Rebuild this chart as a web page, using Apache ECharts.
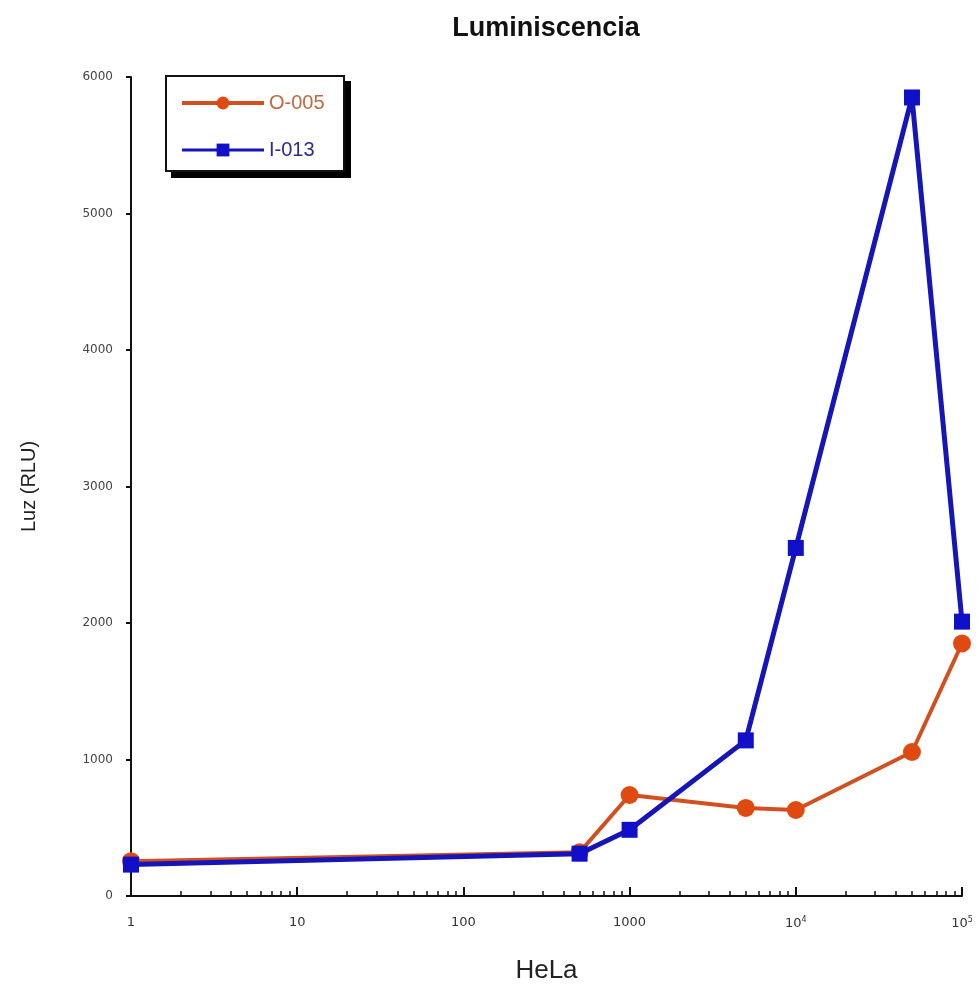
<!DOCTYPE html>
<html>
<head>
<meta charset="utf-8">
<script src="https://cdn.jsdelivr.net/npm/echarts@6/dist/echarts.min.js"></script>
<style>
html,body{margin:0;padding:0;background:#fff;}
#chart{width:978px;height:991px;}
</style>
</head>
<body>
<div id="chart"></div>
<script>
var cellCounts = [1, 500, 1000, 5000, 10000, 50000, 100000];
var seriesNames = ['O-005', 'I-013'];
var o005 = [255, 320, 740, 645, 630, 1055, 1850];
var i013 = [230, 310, 485, 1140, 2550, 5850, 2010];
var yTicks = [0, 1000, 2000, 3000, 4000, 5000, 6000];
var minorTicks = [2,3,4,5,6,7,8,9,20,30,40,50,60,70,80,90,200,300,400,500,600,700,800,900,2000,3000,4000,5000,6000,7000,8000,9000,20000,30000,40000,50000,60000,70000,80000,90000];

function pairs(xs, ys) { return xs.map(function (x, i) { return [x, ys[i]]; }); }

var chart = echarts.init(document.getElementById('chart'));
var font = 'DejaVu Sans, sans-serif';
var sans = 'Liberation Sans, Arial, sans-serif';
chart.setOption({
  animation: false,
  backgroundColor: '#fff',
  title: {
    text: 'Luminiscencia',
    left: 541, top: 10, textAlign: 'center',
    textStyle: { fontFamily: sans, fontWeight: 'bold', fontSize: 27, color: '#111' }
  },
  graphic: [
    { type: 'rect', left: 171, top: 81, z: 0, shape: { width: 180, height: 97 }, style: { fill: '#000' } },
    { type: 'rect', left: 165, top: 75, z: 1, shape: { width: 178, height: 95 }, style: { fill: '#fff', stroke: '#111', lineWidth: 2 } }
  ],
  legend: {
    orient: 'vertical',
    left: 166, top: 77,
    padding: [16, 14, 14, 14],
    itemWidth: 82, itemHeight: 16, itemGap: 27,
    z: 5,
    textStyle: { fontFamily: sans, fontSize: 20 },
    data: [
      { name: seriesNames[0], textStyle: { color: '#c06a45' }, lineStyle: { width: 4 } },
      { name: seriesNames[1], textStyle: { color: '#2a2a90' }, lineStyle: { width: 3 } }
    ]
  },
  grid: { left: 131, right: 16, top: 77, bottom: 95 },
  xAxis: [{
    type: 'log', logBase: 10, min: 1, max: 100000,
    name: 'HeLa', nameLocation: 'middle', nameGap: 62,
    nameTextStyle: { fontFamily: sans, fontSize: 26, color: '#222' },
    axisLine: { lineStyle: { color: '#111', width: 2 } },
    axisTick: { inside: true, length: 9, lineStyle: { color: '#111', width: 2 } },
    splitLine: { show: false },
    axisLabel: {
      fontFamily: font, fontSize: 13, color: '#333', margin: 20,
      formatter: function (v) {
        if (v >= 10000) return '10{sup|' + Math.round(Math.log10(v)) + '}';
        return String(v);
      },
      rich: { sup: { fontSize: 8, verticalAlign: 'top', padding: [0, 0, 8, 0], fontFamily: font, color: '#333' } }
    }
  }, {
    type: 'log', logBase: 10, min: 1, max: 100000, position: 'bottom',
    axisLine: { show: false },
    axisLabel: { show: false },
    splitLine: { show: false },
    axisTick: { show: true, inside: true, length: 5, customValues: minorTicks, lineStyle: { color: '#111', width: 1.5 } }
  }],
  yAxis: {
    type: 'value', min: 0, max: 6000, interval: 1000,
    name: 'Luz (RLU)', nameLocation: 'middle', nameGap: 92,
    nameTextStyle: { fontFamily: sans, fontSize: 20, color: '#222' },
    axisLine: { show: true, lineStyle: { color: '#111', width: 2 } },
    axisTick: { show: true, length: 5, lineStyle: { color: '#111', width: 2 } },
    splitLine: { show: false },
    axisLabel: { fontFamily: font, fontSize: 12, color: '#444', margin: 18,
      customValues: yTicks,
      formatter: function (v) { return String(v); } }
  },
  series: [{
    name: seriesNames[0], type: 'line', xAxisIndex: 0,
    data: pairs(cellCounts, o005),
    symbol: 'circle', symbolSize: 18,
    lineStyle: { color: '#d2501f', width: 4 },
    itemStyle: { color: '#e04a10' },
    z: 2
  }, {
    name: seriesNames[1], type: 'line', xAxisIndex: 0,
    data: pairs(cellCounts, i013),
    symbol: 'rect', symbolSize: 16,
    lineStyle: { color: '#1515b8', width: 5 },
    itemStyle: { color: '#1010c8' },
    z: 3
  }]
});
</script>
</body>
</html>
